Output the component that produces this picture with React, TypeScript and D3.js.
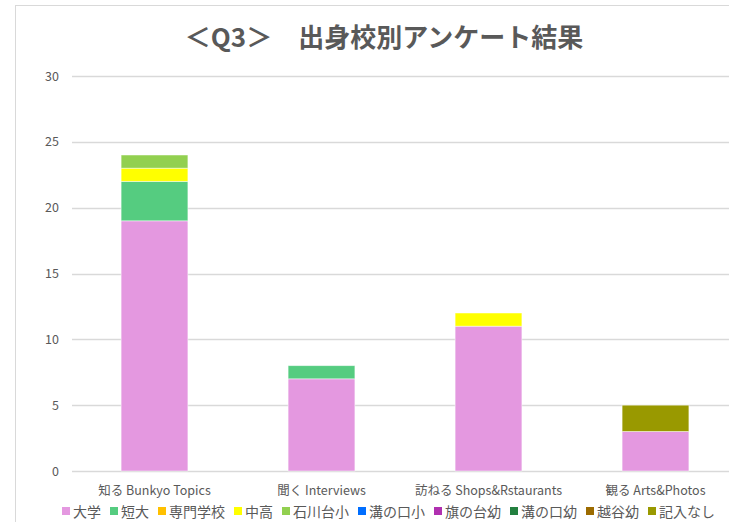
import React, { useEffect, useRef } from "react";
import * as d3 from "d3";

const categories = ["知る Bunkyo Topics", "聞く Interviews", "訪ねる Shops&Rstaurants", "観る Arts&Photos"];
const seriesNames = ["大学", "短大", "専門学校", "中高", "石川台小", "溝の口小", "旗の台幼", "溝の口幼", "越谷幼", "記入なし"];
const seriesColors = ["#E498E0", "#55CC80", "#FFC000", "#FFFF00", "#92D050", "#006EFF", "#B030B0", "#238040", "#9C6B00", "#999900"];
const v大学 = [19, 7, 11, 3];
const v短大 = [3, 1, 0, 0];
const v専門学校 = [0, 0, 0, 0];
const v中高 = [1, 0, 1, 0];
const v石川台小 = [1, 0, 0, 0];
const v溝の口小 = [0, 0, 0, 0];
const v旗の台幼 = [0, 0, 0, 0];
const v溝の口幼 = [0, 0, 0, 0];
const v越谷幼 = [0, 0, 0, 0];
const v記入なし = [0, 0, 0, 2];
const seriesValues = [v大学, v短大, v専門学校, v中高, v石川台小, v溝の口小, v旗の台幼, v溝の口幼, v越谷幼, v記入なし];
const yTicks = [0, 5, 10, 15, 20, 25, 30];
const title = "＜Q3＞　出身校別アンケート結果";

const W = 729;
const H = 522;
const FONT = "'Noto Sans CJK JP', 'Noto Sans', sans-serif";
const TXT = "#595959";

export default function App() {
  const ref = useRef<SVGSVGElement>(null);
  useEffect(() => {
    const svg = d3.select(ref.current);
    svg.selectAll("*").remove();

    // chart border
    svg.append("rect").attr("x", 15.5).attr("y", 5.5).attr("width", W).attr("height", H)
      .attr("fill", "white").attr("stroke", "#d9d9d9").attr("stroke-width", 1);

    svg.append("text").attr("x", 384).attr("y", 47).attr("text-anchor", "middle")
      .attr("font-family", FONT).attr("font-weight", "bold").attr("font-size", 26)
      .attr("fill", TXT).text(title);

    const x = d3.scaleBand().domain(categories).range([71, 739]).paddingInner(0.6).paddingOuter(0.3);
    const y = d3.scaleLinear().domain([0, 30]).range([471, 76]);

    const g = svg.append("g");
    yTicks.forEach((t) => {
      g.append("line").attr("x1", 72).attr("x2", W).attr("y1", Math.round(y(t)) + 0.5).attr("y2", Math.round(y(t)) + 0.5)
        .attr("stroke", "#d9d9d9").attr("stroke-width", 1.3);
      g.append("text").attr("x", 59).attr("y", y(t) + 4.5).attr("text-anchor", "end")
        .attr("font-family", FONT).attr("font-size", 12.5).attr("fill", TXT).text(String(t));
    });

    const rows = categories.map((c, i) => {
      const o: any = { cat: c };
      seriesNames.forEach((s, j) => (o[s] = seriesValues[j][i]));
      return o;
    });
    const stacked = d3.stack().keys(seriesNames)(rows);
    stacked.forEach((layer, j) => {
      g.append("g").selectAll("rect").data(layer.filter((d) => d[1] - d[0] > 0)).join("rect")
        .attr("x", (d: any) => x(d.data.cat)!)
        .attr("width", x.bandwidth())
        .attr("y", (d) => y(d[1]))
        .attr("height", (d) => y(d[0]) - y(d[1]))
        .attr("fill", seriesColors[j])
        .attr("stroke", "white").attr("stroke-width", 0.8).attr("stroke-opacity", 0.6);
    });

    categories.forEach((c) => {
      g.append("text").attr("x", x(c)! + x.bandwidth() / 2).attr("y", 495).attr("text-anchor", "middle")
        .attr("font-family", FONT).attr("font-size", 12.5).attr("fill", TXT).text(c);
    });

    // legend
    let lx = 62;
    const lg = svg.append("g");
    seriesNames.forEach((s, j) => {
      lg.append("rect").attr("x", lx).attr("y", 507).attr("width", 8).attr("height", 8).attr("fill", seriesColors[j]);
      const t = lg.append("text").attr("x", lx + 11).attr("y", 517)
        .attr("font-family", FONT).attr("font-size", 14).attr("fill", TXT).text(s);
      const w = (t.node() as SVGTextElement).getComputedTextLength();
      lx += 11 + w + 9;
    });
  }, []);
  return (
    <svg ref={ref} width={W} height={H} style={{ position: "absolute", left: 0, top: 0, background: "white" }} />
  );
}
